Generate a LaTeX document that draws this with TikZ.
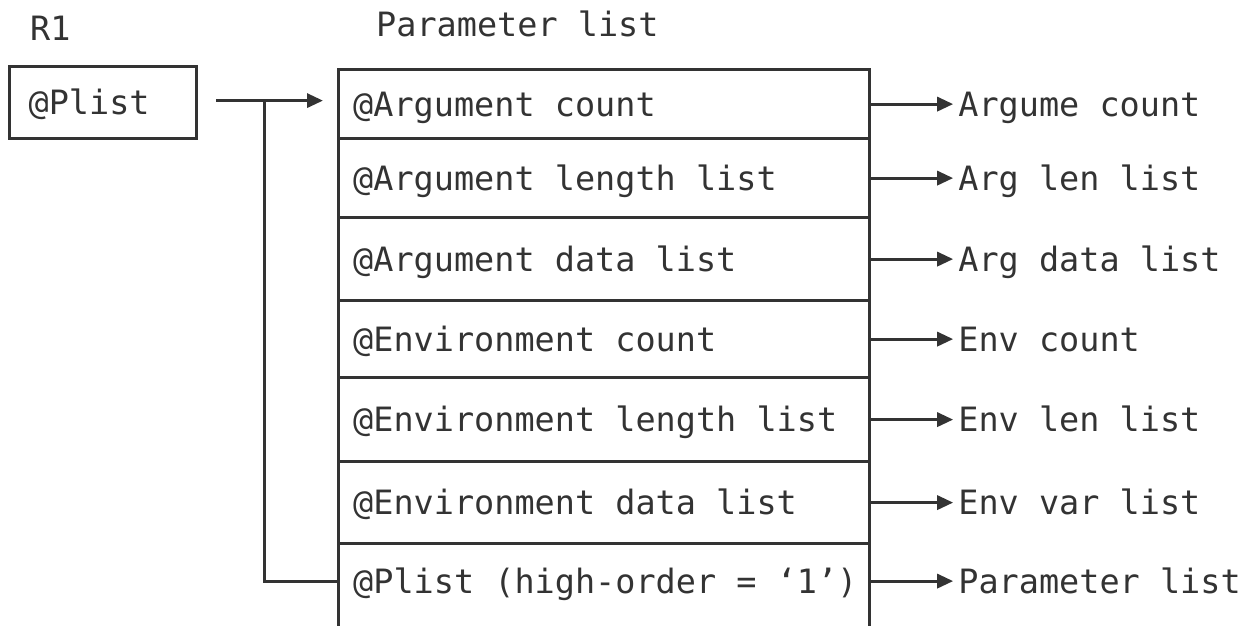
\documentclass[tikz,border=0pt]{standalone}
\usepackage{fontspec}
\setmonofont{DejaVu Sans Mono}
\usetikzlibrary{arrows.meta}
\definecolor{ink}{HTML}{333333}
\begin{document}
\begin{tikzpicture}[x=1pt,y=-1pt,
  every node/.style={text=ink, font=\fontsize{33.5}{40}\selectfont\ttfamily},
  rowbox/.style={draw=ink, line width=3.2pt, minimum width=531pt, anchor=north west, inner sep=0pt},
  celltext/.style={anchor=west, inner sep=0pt, text height=24pt, text depth=0pt},
  lab/.style={anchor=west, inner xsep=5pt, inner ysep=0pt, text height=24pt, text depth=0pt},
  conn/.style={draw=ink, line width=3.2pt},
  arr/.style={conn, -{Triangle[length=16pt,width=14pt]}},
  title/.style={anchor=base west, inner sep=0pt}
]
\useasboundingbox (0,0) rectangle (1251,625);

% titles
\node[title] (tr1) at (30,40) {R1};
\node[title] (tpl) at (376,36) {Parameter list};

% register box
\node[draw=ink, line width=3.2pt, anchor=north west, minimum width=187pt, minimum height=72pt,
      inner xsep=19pt, inner ysep=0pt, text width=149pt, align=left, text height=24pt, text depth=0pt]
      (p) at (8,65) {@Plist};

% parameter list rows
\node[rowbox, minimum height=69pt] (r1) at (337,68) {};
\node[rowbox, minimum height=79pt] (r2) at (337,137) {};
\node[rowbox, minimum height=83pt] (r3) at (337,216) {};
\node[rowbox, minimum height=77pt] (r4) at (337,299) {};
\node[rowbox, minimum height=84pt] (r5) at (337,376) {};
\node[rowbox, minimum height=82pt] (r6) at (337,460) {};
\node[rowbox, minimum height=85pt] (r7) at (337,542) {};

\node[celltext] (c1) at ([xshift=16pt]r1.west) {@Argument count};
\node[celltext] (c2) at ([xshift=16pt]r2.west) {@Argument length list};
\node[celltext] (c3) at ([xshift=16pt]r3.west) {@Argument data list};
\node[celltext] (c4) at ([xshift=16pt]r4.west) {@Environment count};
\node[celltext] (c5) at ([xshift=16pt]r5.west) {@Environment length list};
\node[celltext] (c6) at ([xshift=16pt]r6.west) {@Environment data list};
\node[celltext] (c7) at ([xshift=16pt,yshift=5pt]r7.west) {@Plist (high-order = ‘1’)};

% right labels
\node[lab] (l1) at ([xshift=82pt]r1.east) {Argume count};
\node[lab] (l2) at ([xshift=82pt]r2.east) {Arg len list};
\node[lab] (l3) at ([xshift=82pt]r3.east) {Arg data list};
\node[lab] (l4) at ([xshift=82pt]r4.east) {Env count};
\node[lab] (l5) at ([xshift=82pt]r5.east) {Env len list};
\node[lab] (l6) at ([xshift=82pt]r6.east) {Env var list};
\node[lab] (l7) at ([xshift=82pt]c7.east -| r7.east) {Parameter list};

\foreach \i in {1,...,6} {
  \draw[arr] (r\i.east) -- (l\i.west);
}
\draw[arr] (c7.east -| r7.east) -- (l7.west);

% connectors from register
\coordinate (s) at ([xshift=18pt,yshift=2pt]p.east);
\coordinate (j) at ([xshift=48pt]s);
\draw[arr] (s) -- ([xshift=-14pt]s -| r1.west);
\draw[conn] (j) |- (c7.west -| r7.west);
\end{tikzpicture}
\end{document}
